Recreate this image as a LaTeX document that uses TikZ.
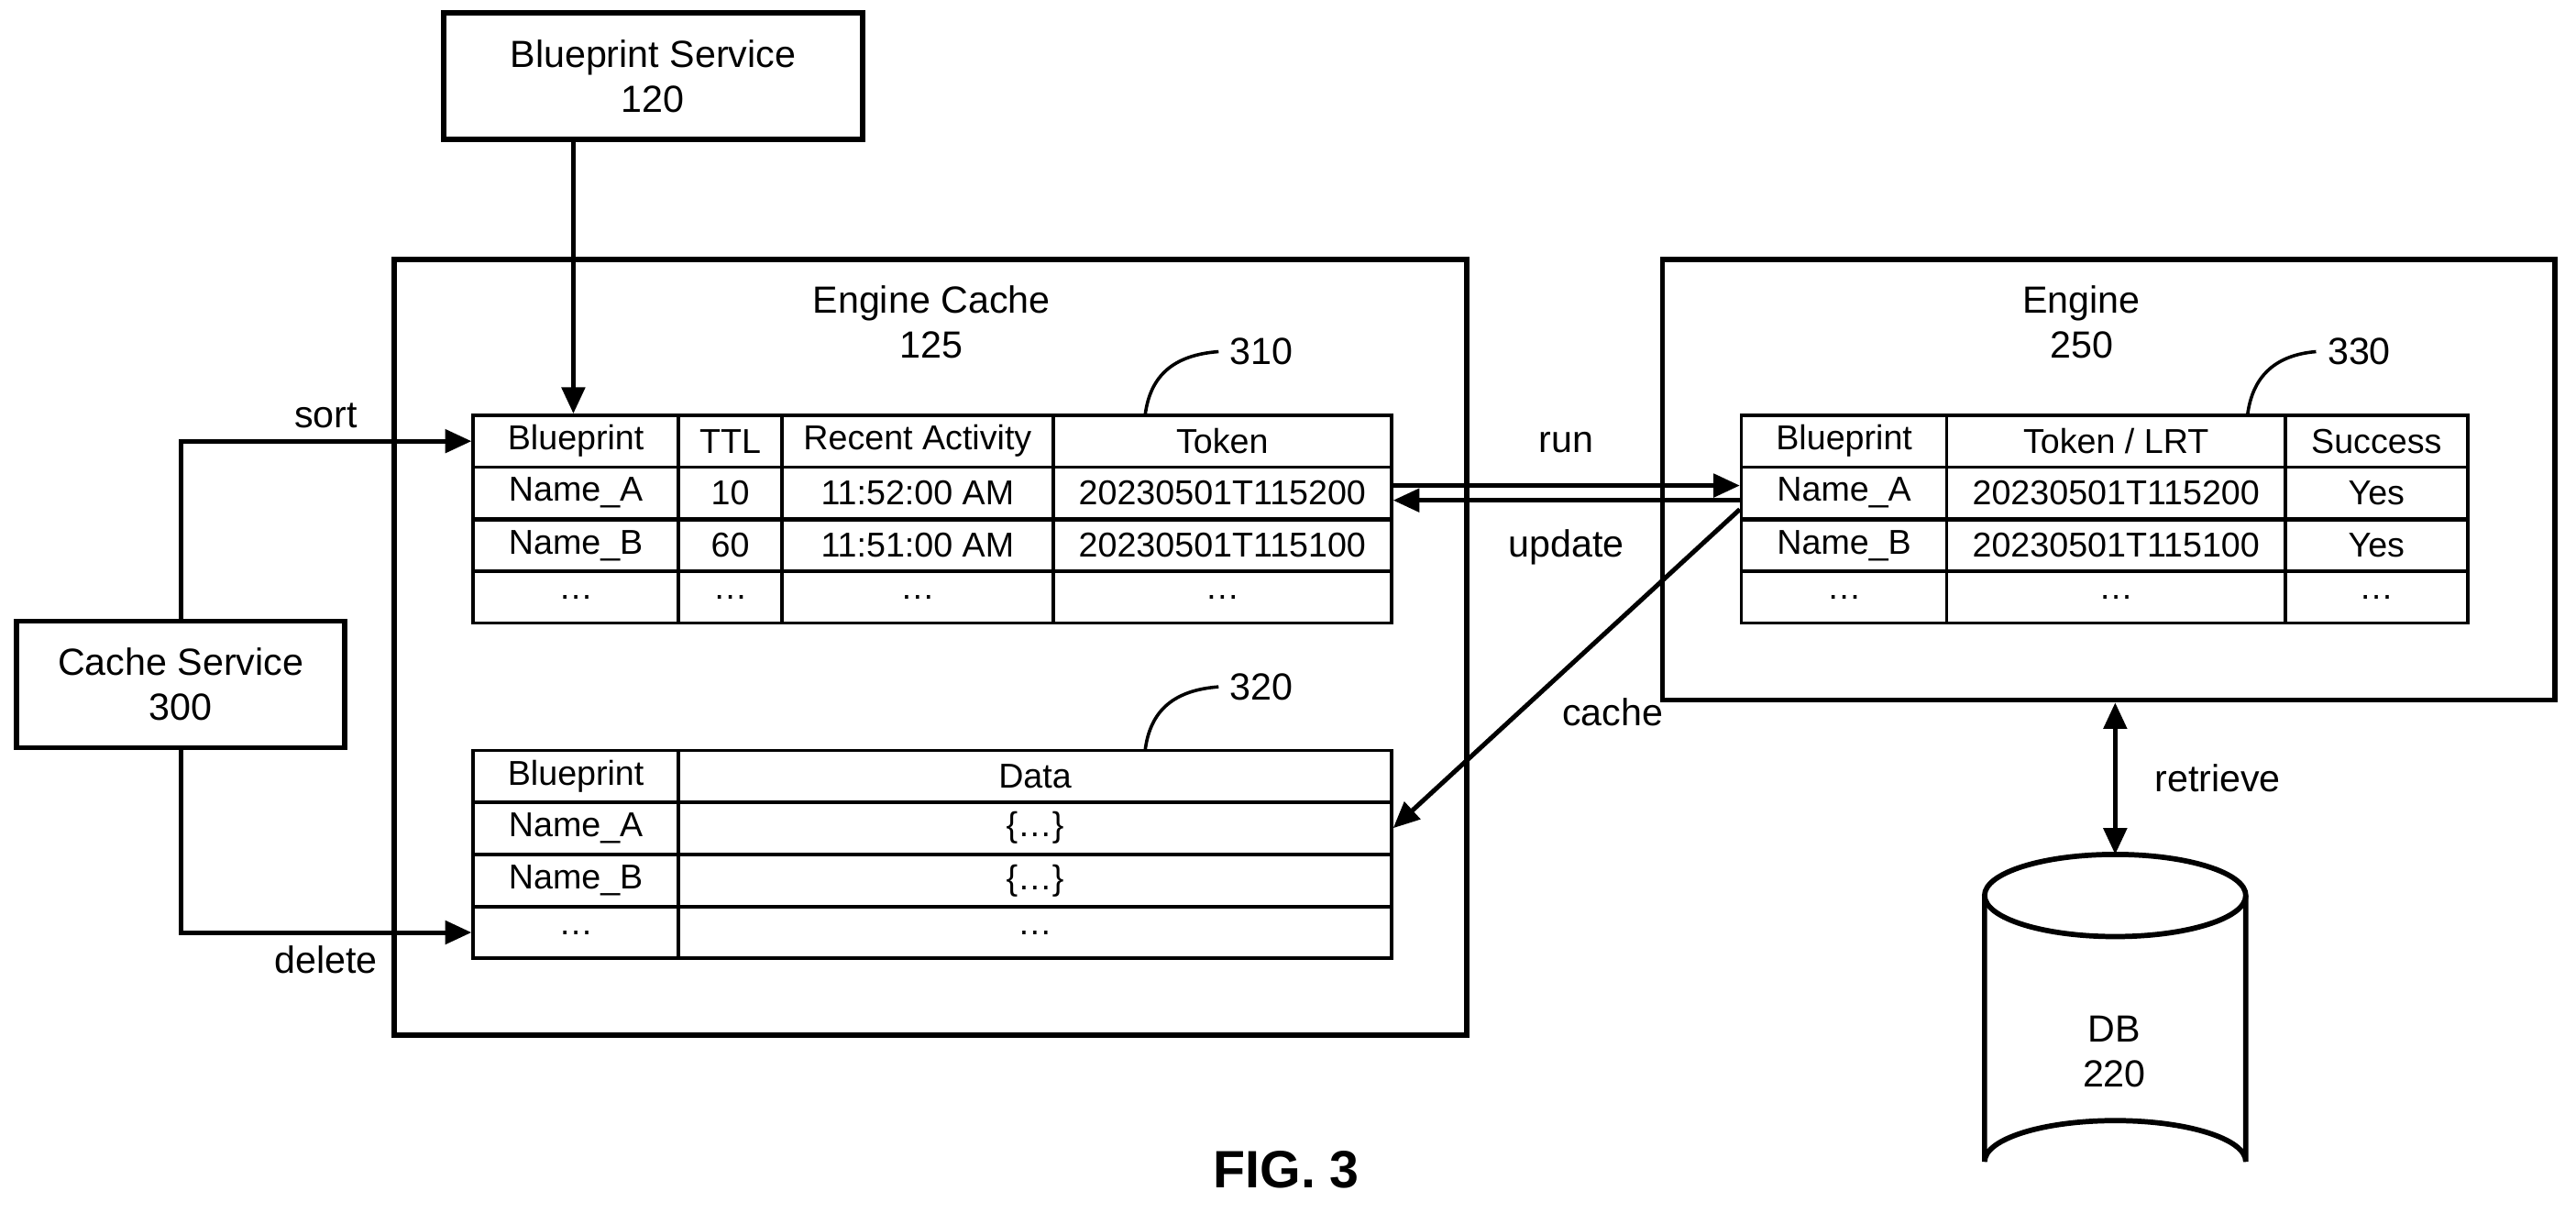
\documentclass[tikz,border=0pt]{standalone}
\usepackage{fontspec}
\setmainfont{Liberation Sans}
\usetikzlibrary{arrows.meta}
\tikzstyle{box} = [rectangle, draw, line width=1.6pt, align=center, inner sep=0pt]
\tikzstyle{cell} = [rectangle, draw, line width=1pt, inner sep=0pt, minimum height=15.75pt, font=\fontsize{10.5}{12}\selectfont]
\tikzstyle{lbl} = [font=\fontsize{11.5}{13.5}\selectfont, align=center]
\tikzset{edge/.style = {
    line width=1.4pt,
    -{Triangle[length=8pt,width=7pt]},
  }
}

\begin{document}
\begin{tikzpicture}[x=0.5pt, y=-0.5pt, font=\fontsize{11.5}{13.5}\selectfont]
  \useasboundingbox (0,0) rectangle (1568,738);
  % boxes
  \node[box, minimum width=127.5pt, minimum height=38.5pt] (bps) at (397.5,46.5) {Blueprint Service\\120};
  \node[box, minimum width=326.5pt, minimum height=236pt] (ec) at (566.5,394) {};
  \node[lbl] (ect) at (567,196) {Engine Cache\\125};
  \node[box, minimum width=271.5pt, minimum height=134pt] (eng) at (1283.5,292) {};
  \node[lbl] (engt) at (1267,196) {Engine\\250};
  \node[box, minimum width=100pt, minimum height=38.5pt] (cs) at (110,416.5) {Cache Service\\300};

  % table 310
  \foreach \y/\a/\b/\c/\d [count=\r] in {268.5/Blueprint/TTL/Recent Activity/Token,
      300/Name\_A/10/11:52:00 AM/20230501T115200,
      332/Name\_B/60/11:51:00 AM/20230501T115100,
      363.5/{\dots}/{\dots}/{\dots}/{\dots}} {
    \node[cell, minimum width=62.5pt] (ta\r) at (350.5,\y) {\a};
    \node[cell, minimum width=31.5pt] (tb\r) at (444.5,\y) {\b};
    \node[cell, minimum width=82.5pt] (tc\r) at (558.5,\y) {\c};
    \node[cell, minimum width=103pt] (td\r) at (744,\y) {\d};
  }
  % table 320
  \foreach \y/\a/\b [count=\r] in {472.5/Blueprint/Data,
      504/Name\_A/{\{\ldots\}},
      536/Name\_B/{\{\ldots\}},
      567.5/{\dots}/{\dots}} {
    \node[cell, minimum width=62.5pt] (da\r) at (350.5,\y) {\a};
    \node[cell, minimum width=217pt] (db\r) at (630,\y) {\b};
  }
  % table 330
  \foreach \y/\a/\b/\c [count=\r] in {268.5/Blueprint/{Token / LRT}/Success,
      300/Name\_A/20230501T115200/Yes,
      332/Name\_B/20230501T115100/Yes,
      363.5/{\dots}/{\dots}/{\dots}} {
    \node[cell, minimum width=62.5pt] (ea\r) at (1122.5,\y) {\a};
    \node[cell, minimum width=103pt] (eb\r) at (1288,\y) {\b};
    \node[cell, minimum width=55.5pt] (ec\r) at (1446.5,\y) {\c};
  }

  % table labels
  \node[lbl] (n310) at (768,214) {310};
  \node[lbl] (n320) at (768,418) {320};
  \node[lbl] (n330) at (1436,214) {330};
  \draw[line width=1pt] (697,253) .. controls (700,228) and (715,216) .. (n310.west);
  \draw[line width=1pt] (697,457) .. controls (700,432) and (715,420) .. (n320.west);
  \draw[line width=1pt] (1368,253) .. controls (1371,228) and (1386,216) .. (n330.west);

  % DB
  \draw[line width=1.6pt] (1208,545) -- (1208,707) arc[start angle=180, end angle=360, x radius=79.5, y radius=25] -- (1367,545);
  \draw[line width=1.6pt] (1287.5,545) ellipse[x radius=79.5, y radius=25];
  \coordinate (dbtop) at (1287.5,520);
  \node[lbl] (db) at (1287,640) {DB\\220};

  % edges
  \draw[edge] ([xshift=-24.25pt]bps.south) -- ([xshift=-0.75pt]ta1.north);
  \draw[edge] (cs.north) |- (ta1.west) node[pos=0.75, above, lbl] {sort};
  \draw[edge] (cs.south) |- (da4.west) node[pos=0.75, below, lbl] {delete};
  \draw[edge] ([yshift=2.25pt]td2.east) -- ([yshift=2.25pt]ea2.west) node[midway, above=6pt, lbl] {run};
  \draw[edge] ([yshift=-2.25pt]ea2.west) -- ([yshift=-2.25pt]td2.east) node[midway, below=5pt, lbl] {update};
  \draw[edge] ([yshift=-5pt]ea2.west) -- (db2.east) node[pos=0.55, below right, lbl] {cache};
  \draw[edge, {Triangle[length=8pt,width=7pt]}-{Triangle[length=8pt,width=7pt]}] (eng.south -| dbtop) -- (dbtop) node[midway, right=8pt, lbl] {retrieve};

  \node[font=\fontsize{16}{18}\selectfont\bfseries] (fig) at (783,712) {FIG. 3};
\end{tikzpicture}
\end{document}
